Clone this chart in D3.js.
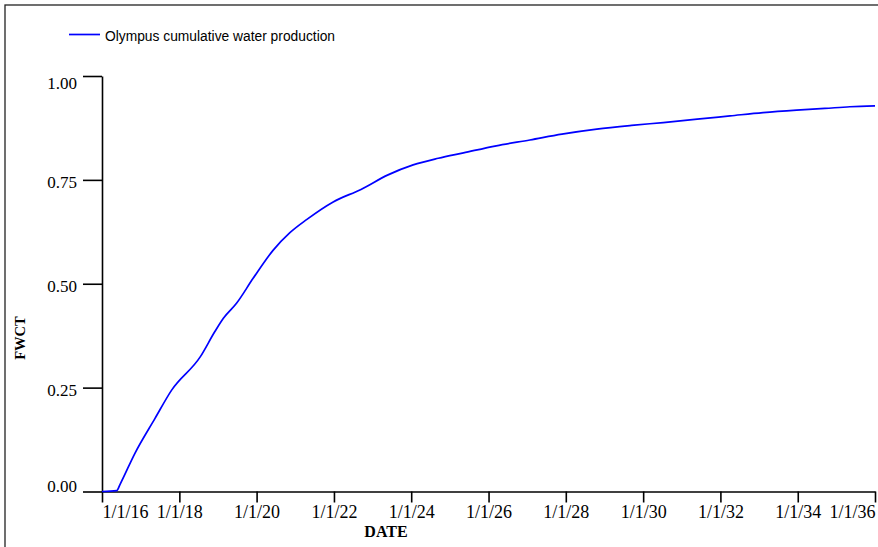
<!DOCTYPE html>
<html>
<head>
<meta charset="utf-8">
<script src="https://cdn.jsdelivr.net/npm/d3@7"></script>
<style>
  body { margin: 0; background: #fff; }
  svg { display: block; }
</style>
</head>
<body>
<svg id="chart" width="878" height="547"></svg>
<script>
// curve: decimal year -> FWCT
var years = [2016.00, 2016.38, 2016.47, 2016.85, 2017.37, 2017.80, 2018.54, 2018.92, 2019.14,
  2019.48, 2019.91, 2020.43, 2020.86, 2021.30, 2021.98, 2022.70, 2023.40, 2024.05, 2024.70,
  2025.35, 2026.20, 2027.07, 2027.90, 2028.80, 2029.70, 2030.52, 2031.40, 2032.25, 2033.10,
  2033.97, 2034.70, 2035.35, 2036.00];
var fwct = [0.000, 0.002, 0.018, 0.092, 0.176, 0.244, 0.324, 0.385, 0.417,
  0.453, 0.513, 0.581, 0.623, 0.655, 0.697, 0.727, 0.762, 0.786, 0.802,
  0.815, 0.832, 0.846, 0.860, 0.872, 0.881, 0.888, 0.896, 0.904, 0.912,
  0.918, 0.922, 0.926, 0.928];
var yTicks = [0, 0.25, 0.5, 0.75, 1];
var tickYears = [2016, 2018, 2020, 2022, 2024, 2026, 2028, 2030, 2032, 2034, 2036];
var seriesName = "Olympus cumulative water production";

function toDate(y) {
  var yr = Math.floor(y);
  var start = new Date(yr, 0, 1), end = new Date(yr + 1, 0, 1);
  return new Date(+start + (y - yr) * (end - start));
}

var svg = d3.select("#chart");

// outer frame (only top and left edges show)
svg.append("rect")
  .attr("x", 5).attr("y", 5).attr("width", 900).attr("height", 600)
  .attr("fill", "none").attr("stroke", "#222").attr("stroke-width", 1.3);

var x = d3.scaleTime()
  .domain([new Date(2016, 0, 1), new Date(2036, 0, 1)])
  .range([102, 875]);
var y = d3.scaleLinear().domain([0, 1]).range([491.5, 76]);

var fmt = d3.timeFormat("%-m/%-d/%y");

// x axis
var gx = svg.append("g")
  .attr("transform", "translate(0," + 491.5 + ")")
  .call(d3.axisBottom(x)
    .tickValues(tickYears.map(function (d) { return new Date(d, 0, 1); }))
    .tickFormat(fmt)
    .tickSize(11).tickSizeOuter(0).tickPadding(3));
gx.selectAll("text")
  .attr("font-family", "'Liberation Serif', 'Times New Roman', serif")
  .attr("font-size", 18).attr("fill", "#000")
  .attr("text-anchor", function (d, i) {
    return i === 0 ? "start" : (i === tickYears.length - 1 ? "end" : "middle");
  });

// y axis
var gy = svg.append("g")
  .attr("transform", "translate(102,0)")
  .call(d3.axisLeft(y)
    .tickValues(yTicks)
    .tickFormat(d3.format(".2f"))
    .tickSize(19).tickSizeOuter(0).tickPadding(6));
gy.selectAll("text")
  .attr("font-family", "'Liberation Serif', 'Times New Roman', serif")
  .attr("font-size", 17).attr("fill", "#000")
  .attr("dy", function (d) { return d === 0 ? "0em" : (d === 1 ? "0.74em" : "0.45em"); });

svg.selectAll(".domain, .tick line")
  .attr("stroke", "#000").attr("stroke-width", 1.6);

// axis titles
svg.append("text")
  .attr("x", 386).attr("y", 537)
  .attr("text-anchor", "middle")
  .attr("font-family", "'Liberation Serif', 'Times New Roman', serif")
  .attr("font-size", 16).attr("font-weight", "bold")
  .text("DATE");

svg.append("text")
  .attr("transform", "translate(25,338) rotate(-90)")
  .attr("text-anchor", "middle")
  .attr("font-family", "'Liberation Serif', 'Times New Roman', serif")
  .attr("font-size", 14.5).attr("font-weight", "bold")
  .text("FWCT");

// the curve
var line = d3.line()
  .x(function (d, i) { return x(toDate(years[i])); })
  .y(function (d) { return y(d); })
  .curve(d3.curveMonotoneX);

svg.append("path")
  .datum(fwct)
  .attr("d", line)
  .attr("fill", "none")
  .attr("stroke", "#0000ff")
  .attr("stroke-width", 1.7);

// legend
svg.append("line")
  .attr("x1", 69).attr("x2", 100).attr("y1", 34.5).attr("y2", 34.5)
  .attr("stroke", "#0000ff").attr("stroke-width", 1.7);
svg.append("text")
  .attr("x", 105).attr("y", 41)
  .attr("font-family", "'Liberation Sans', Arial, sans-serif")
  .attr("font-size", 13.8).attr("fill", "#000")
  .text(seriesName);
</script>
</body>
</html>
